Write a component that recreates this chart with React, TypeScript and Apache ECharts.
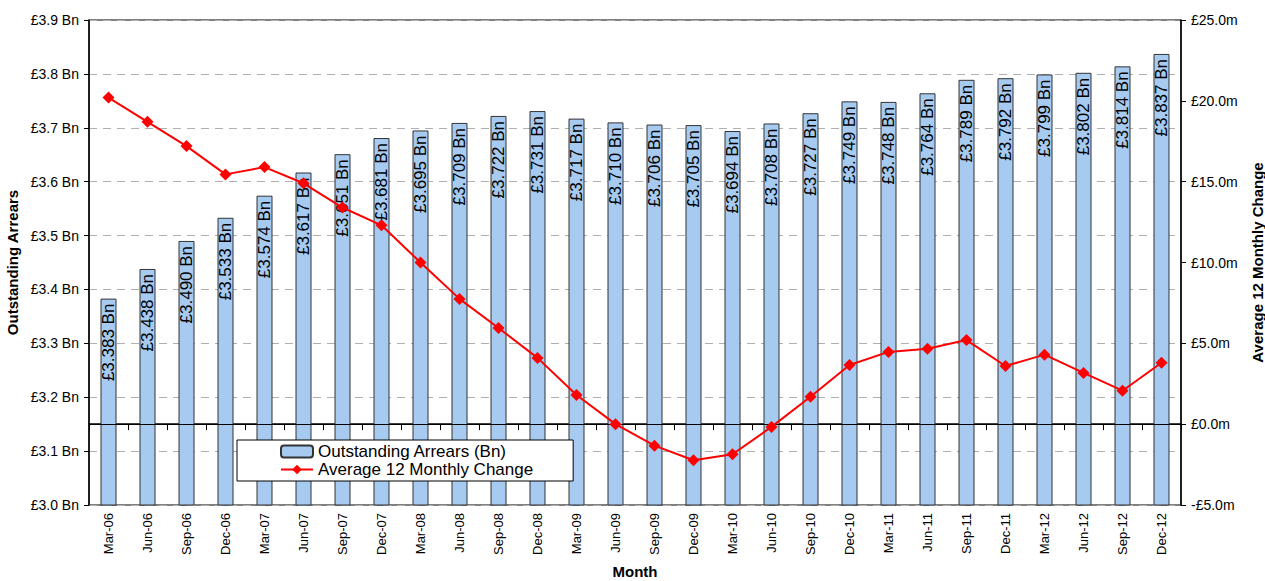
import React, { useEffect, useRef } from "react";
import * as echarts from "echarts";

const months = [
  "Mar-06", "Jun-06", "Sep-06", "Dec-06",
  "Mar-07", "Jun-07", "Sep-07", "Dec-07",
  "Mar-08", "Jun-08", "Sep-08", "Dec-08",
  "Mar-09", "Jun-09", "Sep-09", "Dec-09",
  "Mar-10", "Jun-10", "Sep-10", "Dec-10",
  "Mar-11", "Jun-11", "Sep-11", "Dec-11",
  "Mar-12", "Jun-12", "Sep-12", "Dec-12",
];

const arrearsBn = [
  3.383, 3.438, 3.49, 3.533,
  3.574, 3.617, 3.651, 3.681,
  3.695, 3.709, 3.722, 3.731,
  3.717, 3.71, 3.706, 3.705,
  3.694, 3.708, 3.727, 3.749,
  3.748, 3.764, 3.789, 3.792,
  3.799, 3.802, 3.814, 3.837,
];

const avgChangeM = [
  20.2, 18.7, 17.2, 15.45,
  15.9, 14.9, 13.4, 12.3,
  10.0, 7.75, 5.95, 4.1,
  1.8, 0.0, -1.33, -2.23,
  -1.86, -0.17, 1.7, 3.66,
  4.47, 4.66, 5.2, 3.6,
  4.3, 3.17, 2.07, 3.8,
];

const FONT = "Liberation Sans, Arial, sans-serif";

export default function App() {
  const ref = useRef<HTMLDivElement>(null);
  useEffect(() => {
    if (!ref.current) return;
    const chart = echarts.init(ref.current, undefined, { renderer: "svg" });
    chart.setOption({
      animation: false,
      textStyle: { fontFamily: FONT, color: "#000" },
      grid: {
        left: 89,
        right: 84,
        top: 20,
        bottom: 76,
        containLabel: false,
        outerBoundsMode: "none",
        show: true,
        borderColor: "#000",
        borderWidth: 1,
        backgroundColor: "transparent",
      },
      legend: {
        left: 237,
        top: 440,
        orient: "vertical",
        backgroundColor: "#fff",
        borderColor: "#000",
        borderWidth: 1,
        padding: [3, 40, 3, 43],
        itemGap: 1,
        itemWidth: 32,
        itemHeight: 12,
        textStyle: { fontSize: 17, color: "#000", fontFamily: FONT },
        data: ["Outstanding Arrears (Bn)", "Average 12 Monthly Change"],
      },
      xAxis: {
        type: "category",
        data: months,
        name: "Month",
        nameLocation: "middle",
        nameGap: 59,
        nameTextStyle: { fontWeight: "bold", fontSize: 15, color: "#000" },
        axisLine: { lineStyle: { color: "#000", width: 1.5 } },
        axisTick: { show: true, length: 6, lineStyle: { color: "#000" } },
        axisLabel: { rotate: 90, fontSize: 13, color: "#000", margin: 8 },
      },
      yAxis: [
        {
          type: "value",
          min: 3.0,
          max: 3.9,
          interval: 0.1,
          name: "Outstanding Arrears",
          nameLocation: "middle",
          nameGap: 65,
          nameTextStyle: { fontWeight: "bold", fontSize: 15, color: "#000" },
          axisLine: { show: true, lineStyle: { color: "#000", width: 1.5 } },
          axisTick: { show: true, length: 5, lineStyle: { color: "#000" } },
          axisLabel: {
            fontSize: 14,
            color: "#000",
            margin: 10,
            formatter: (v: number) => "£" + v.toFixed(1) + " Bn",
          },
          splitLine: {
            show: true,
            lineStyle: { color: "#b0b0b0", type: [8, 6], width: 1 },
          },
        },
        {
          type: "value",
          min: -5,
          max: 25,
          interval: 5,
          name: "Average 12 Monthly Change",
          nameLocation: "middle",
          nameGap: 69,
          nameRotate: 90,
          nameTextStyle: { fontWeight: "bold", fontSize: 15, color: "#000" },
          axisLine: { show: true, lineStyle: { color: "#000", width: 1.5 } },
          axisTick: { show: true, length: 5, lineStyle: { color: "#000" } },
          axisLabel: {
            fontSize: 14,
            color: "#000",
            margin: 10,
            formatter: (v: number) =>
              (v < 0 ? "-£" : "£") + Math.abs(v).toFixed(1) + "m",
          },
          splitLine: { show: false },
        },
      ],
      series: [
        {
          name: "Outstanding Arrears (Bn)",
          type: "bar",
          yAxisIndex: 0,
          data: arrearsBn,
          barWidth: 16,
          itemStyle: { color: "#A6CAF0", borderColor: "#333", borderWidth: 1 },
          label: {
            show: true,
            position: "insideTop",
            rotate: 90,
            align: "right",
            verticalAlign: "middle",
            distance: 5,
            fontSize: 17,
            color: "#000",
            fontFamily: FONT,
            formatter: (p: any) => "£" + Number(p.value).toFixed(3) + " Bn",
          },
        },
        {
          name: "Average 12 Monthly Change",
          type: "line",
          yAxisIndex: 1,
          data: avgChangeM,
          symbol: "diamond",
          symbolSize: 12,
          lineStyle: { color: "#FF0000", width: 2 },
          itemStyle: { color: "#FF0000" },
          z: 5,
          markLine: {
            silent: true,
            symbol: "none",
            label: { show: false },
            lineStyle: { color: "#000", width: 1, type: "solid" },
            data: [{ yAxis: 0 }],
          },
        },
      ],
    });
    return () => chart.dispose();
  }, []);
  return (
    <div
      ref={ref}
      style={{ position: "absolute", left: 0, top: 0, width: 1265, height: 581 }}
    />
  );
}
